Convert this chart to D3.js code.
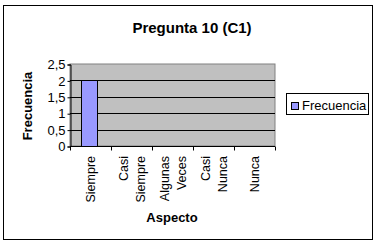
<!DOCTYPE html>
<html><head><meta charset="utf-8">
<script src="https://cdn.jsdelivr.net/npm/d3@7"></script>
<style>body{margin:0;background:#fff}svg{display:block}text{font-family:Arial,"Liberation Sans",sans-serif}</style>
</head><body>
<script>
const categories = [["Siempre"],["Casi","Siempre"],["Algunas","Veces"],["Casi","Nunca"],["Nunca"]];
const values = [2,0,0,0,0];
const yTicks = [0,0.5,1,1.5,2,2.5];
const yTickLabels = ["0","0,5","1","1,5","2","2,5"];
const seriesName = "Frecuencia";
const title = "Pregunta 10 (C1)";

const W=379,H=245;
const svg=d3.select("body").append("svg").attr("width",W).attr("height",H);
svg.append("rect").attr("x",3.5).attr("y",5.5).attr("width",369).attr("height",234).attr("fill","#fff").attr("stroke","#000");

const L=70,R=275,T=64,B=146;
const x=d3.scaleBand().domain(d3.range(categories.length)).range([L,R]);
const y=d3.scaleLinear().domain([0,2.5]).range([B,T]);

svg.append("rect").attr("x",L).attr("y",T).attr("width",R-L).attr("height",B-T).attr("fill","#c0c0c0").attr("stroke","#808080");
svg.append("g").selectAll("line").data(yTicks.filter(d=>d>0&&d<2.5)).join("line")
  .attr("x1",L).attr("x2",R).attr("y1",d=>Math.round(y(d))+0.5).attr("y2",d=>Math.round(y(d))+0.5).attr("stroke","#000");

svg.append("g").selectAll("rect").data(values).join("rect")
  .attr("x",(d,i)=>Math.round(x(i)+x.bandwidth()*0.27)+0.5)
  .attr("width",Math.round(x.bandwidth()*0.4))
  .attr("y",d=>Math.round(y(d))+0.5).attr("height",d=>Math.max(0,Math.round(y(0))-Math.round(y(d))))
  .attr("fill","#9999ff").attr("stroke","#000").attr("display",d=>d>0?null:"none");

// y axis
const ya=d3.axisLeft(y).tickValues(yTicks).tickFormat((d,i)=>yTickLabels[i]).tickSize(3).tickPadding(2);
const gy=svg.append("g").attr("transform",`translate(${L+0.5},0.5)`).call(ya);
gy.select(".domain").attr("stroke","#000");
gy.selectAll("text").attr("font-size","13px").attr("fill","#000");
// x axis
const gx=svg.append("g").attr("transform",`translate(0,${B+0.5})`);
gx.append("line").attr("x1",L).attr("x2",R).attr("stroke","#000");
gx.selectAll(".tk").data(d3.range(categories.length+1)).join("line").attr("class","tk")
  .attr("x1",i=>Math.round(L+i*x.step())+0.5).attr("x2",i=>Math.round(L+i*x.step())+0.5).attr("y1",0).attr("y2",4).attr("stroke","#000");
categories.forEach((lines,i)=>{
  const cx=x(i)+x.bandwidth()/2;
  const n=lines.length;
  lines.forEach((t,j)=>{
    const off=(j-(n-1)/2)*17;
    svg.append("text").attr("transform",`translate(${cx+off+4.5},156) rotate(-90)`)
      .attr("text-anchor","end").attr("font-size","12.5px").text(t);
  });
});

svg.append("text").attr("x",192).attr("y",33).attr("text-anchor","middle").attr("font-weight","bold").attr("font-size","15px").text(title);
svg.append("text").attr("transform","translate(32,106) rotate(-90)").attr("text-anchor","middle").attr("font-weight","bold").attr("font-size","13px").text("Frecuencia");
svg.append("text").attr("x",172).attr("y",222).attr("text-anchor","middle").attr("font-weight","bold").attr("font-size","13px").text("Aspecto");

// legend
svg.append("rect").attr("x",286.5).attr("y",93.5).attr("width",82).attr("height",21).attr("fill","#fff").attr("stroke","#000");
svg.append("rect").attr("x",291.5).attr("y",102.5).attr("width",7).attr("height",7).attr("fill","#9999ff").attr("stroke","#000");
svg.append("text").attr("x",302).attr("y",110).attr("font-size","13px").text(seriesName);
</script>
</body></html>
